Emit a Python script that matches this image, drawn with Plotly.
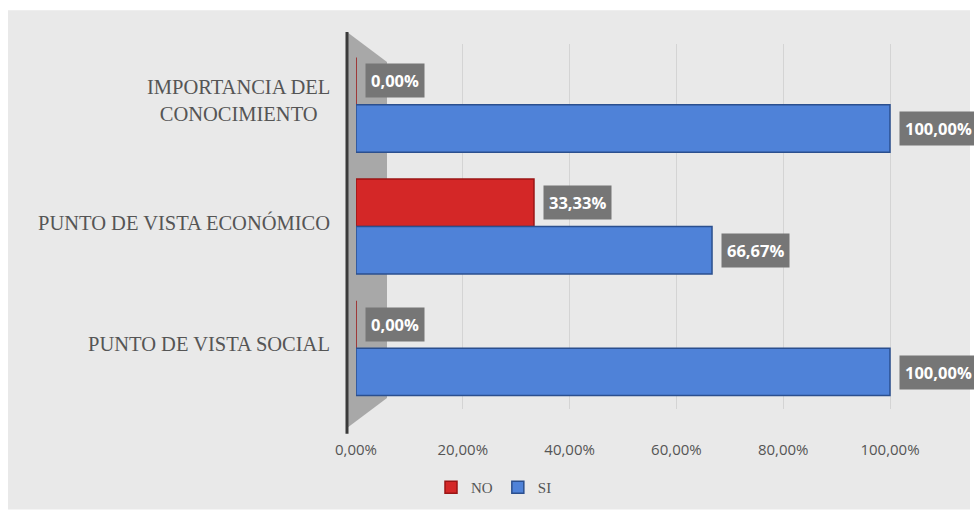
import plotly.graph_objects as go

# datos
categorias = ["IMPORTANCIA DEL<br>CONOCIMIENTO", "PUNTO DE VISTA ECONÓMICO", "PUNTO DE VISTA SOCIAL"]
no_vals = [0.00, 33.33, 0.00]
si_vals = [100.00, 66.67, 100.00]
ticks = [0, 20, 40, 60, 80, 100]
tick_text = ["0,00%", "20,00%", "40,00%", "60,00%", "80,00%", "100,00%"]

W, H = 974, 516
L, R, T, B = 356, 17, 44, 105
PW, PH = W - L - R, H - T - B


def px(x):
    return (x - L) / PW


def py(y):
    return (H - B - y) / PH


def fmt(v):
    return f"{v:.2f}".replace(".", ",") + "%"


fig = go.Figure()
fig.add_trace(go.Bar(
    y=categorias, x=no_vals, name="NO", orientation="h",
    marker=dict(color="#d42727", line=dict(color="#9a1515", width=1.5)),
))
fig.add_trace(go.Bar(
    y=categorias, x=si_vals, name="SI", orientation="h",
    marker=dict(color="#4f82d8", line=dict(color="#2b4f8e", width=1.5)),
))

# etiquetas de datos (cajas grises)
anns = []
for serie, vals, shift in (("NO", no_vals, 24), ("SI", si_vals, -24)):
    for cat, v in zip(categorias, vals):
        anns.append(dict(
            x=v, y=cat, xref="x", yref="y", text=fmt(v), showarrow=False,
            xanchor="left", yanchor="middle", xshift=9, yshift=shift,
            bgcolor="#767676", borderpad=5,
            font=dict(family="Open Sans", size=16.5, color="white", weight="bold"),
        ))

# etiquetas de categoria centradas
for cat in categorias:
    anns.append(dict(
        x=0, y=cat, xref="paper", yref="y", text=cat, showarrow=False,
        xanchor="right", yanchor="middle", xshift=-24, yshift=4, align="center",
        font=dict(family="Liberation Serif", size=20.5, color="#555555"),
    ))

shapes = [
    # fondo del area del grafico
    dict(type="rect", xref="paper", yref="paper", layer="below",
         x0=px(8), x1=px(970), y0=py(512), y1=py(10),
         fillcolor="#e9e9e9", line=dict(width=0)),
    # pared lateral 3D
    dict(type="path", xref="paper", yref="paper", layer="below",
         path=f"M {px(347)},{py(32)} L {px(387)},{py(62)} L {px(387)},{py(400)} "
              f"L {px(347)},{py(430)} Z",
         fillcolor="#a8a8a8", line=dict(width=0)),
    dict(type="line", xref="paper", yref="paper", layer="above",
         x0=px(347), x1=px(347), y0=py(436), y1=py(32),
         line=dict(color="#3a3a3a", width=3)),
]

fig.update_layout(
    width=W, height=H,
    margin=dict(l=L, r=R, t=T, b=B),
    paper_bgcolor="white",
    plot_bgcolor="rgba(0,0,0,0)",
    barmode="group",
    bargap=0.22,
    bargroupgap=0,
    showlegend=True,
    legend=dict(
        orientation="h", x=px(494), y=py(490), xanchor="center", yanchor="middle",
        font=dict(family="Liberation Serif", size=15, color="#555555"),
        bgcolor="rgba(0,0,0,0)", itemwidth=30, traceorder="normal",
    ),
    xaxis=dict(
        range=[0, PW / 5.34], tickvals=ticks, ticktext=tick_text,
        showgrid=True, gridcolor="#d4d4d4", gridwidth=1, zeroline=False,
        showline=False, ticks="", ticklabelstandoff=30,
        tickfont=dict(family="Open Sans", size=15, color="#555555"),
    ),
    yaxis=dict(
        autorange="reversed", showticklabels=False, showgrid=False,
        zeroline=False, showline=False, ticks="",
    ),
    annotations=anns,
    shapes=shapes,
)

fig.write_html("out.html", config={"displayModeBar": False},
               post_script="document.body.style.margin='0';")
